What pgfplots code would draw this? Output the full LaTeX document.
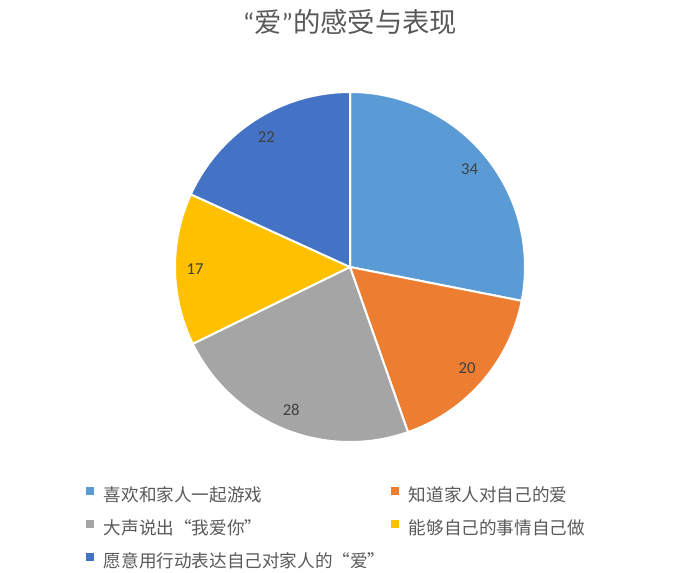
\documentclass[border=0pt]{standalone}
\usepackage{fontspec}
\setmainfont{Noto Sans CJK SC}
\newfontfamily\carlito{Carlito}
\usepackage{pgfplots}
\usepackage{pgfplotstable}
\pgfplotsset{compat=1.18}

\definecolor{c0}{HTML}{5B9BD5}
\definecolor{c1}{HTML}{ED7D31}
\definecolor{c2}{HTML}{A5A5A5}
\definecolor{c3}{HTML}{FFC000}
\definecolor{c4}{HTML}{4472C4}
\definecolor{txtgray}{HTML}{595959}
\definecolor{labgray}{HTML}{404040}

\pgfplotstableread[col sep=comma]{
name,value
喜欢和家人一起游戏,34
知道家人对自己的爱,20
大声说出“我爱你”,28
能够自己的事情自己做,17
愿意用行动表达自己对家人的“爱”,22
}\piedata

\begin{document}
\begin{tikzpicture}
  \path[use as bounding box] (0,0) rectangle (524.25pt,429pt);

  \node[text=txtgray, font=\fontsize{20.5}{24}\selectfont, inner sep=0pt]
    at (262.5pt,412.5pt) {{\carlito “}爱{\carlito ”}的感受与表现};

  % total of all slices
  \pgfmathsetmacro\total{0}
  \pgfplotsforeachungrouped \i in {0,...,4}{%
    \pgfplotstablegetelem{\i}{value}\of\piedata
    \pgfmathsetmacro\total{\total+\pgfplotsretval}%
  }

  \begin{axis}[
      at={(262.5pt,228.75pt)},
      anchor=center,
      width=262.5pt,
      height=262.5pt,
      scale only axis,
      hide axis,
      clip=false,
      xmin=-1, xmax=1,
      ymin=-1, ymax=1,
      legend image code/.code={%
        \fill[#1, draw=none] (0pt,1.4pt) rectangle (6pt,7.4pt);
        \path (0pt,0pt) -- (12.5pt,0pt);
      },
      every node near coord/.append style={
        font=\carlito\fontsize{12.5}{14}\selectfont,
        text=labgray
      },
      legend columns=2,
      legend cell align=left,
      legend style={
        at={(-0.2571,-0.1269)},
        anchor=north west,
        draw=none,
        fill=none,
        inner sep=0pt,
        row sep=11pt,
        nodes={inner sep=0pt, text height=10pt, text depth=3pt,
               font=\fontsize{13.2}{15}\selectfont, text=txtgray},
        /tikz/every even column/.append style={column sep=3.5pt}
      },
    ]

    \pgfmathsetmacro\cum{0}
    \pgfplotsforeachungrouped \i in {0,...,4}{%
      \pgfplotstablegetelem{\i}{value}\of\piedata \let\v\pgfplotsretval
      \pgfplotstablegetelem{\i}{name}\of\piedata \let\n\pgfplotsretval
      \pgfmathsetmacro\sa{90-\cum/\total*360}%
      \pgfmathsetmacro\sb{90-(\cum+\v)/\total*360}%
      \pgfmathsetmacro\sm{(\sa+\sb)/2}%
      \pgfmathsetmacro\lx{0.885*cos(\sm)}%
      \pgfmathsetmacro\ly{0.885*sin(\sm)}%
      \pgfmathsetmacro\cum{\cum+\v}%
      \edef\temp{%
        \noexpand\addplot[fill=c\i, draw=white, line width=1.5pt,
          domain=\sb:\sa, samples=120]
          ({cos(x)},{sin(x)}) -- (0,0) -- cycle;
        \noexpand\addlegendentry{\n}
        \noexpand\addplot[forget plot, draw=none, mark=none,
          nodes near coords={\v}, nodes near coords align=center]
          coordinates {(\lx,\ly)};
      }\temp
    }

  \end{axis}
\end{tikzpicture}
\end{document}
